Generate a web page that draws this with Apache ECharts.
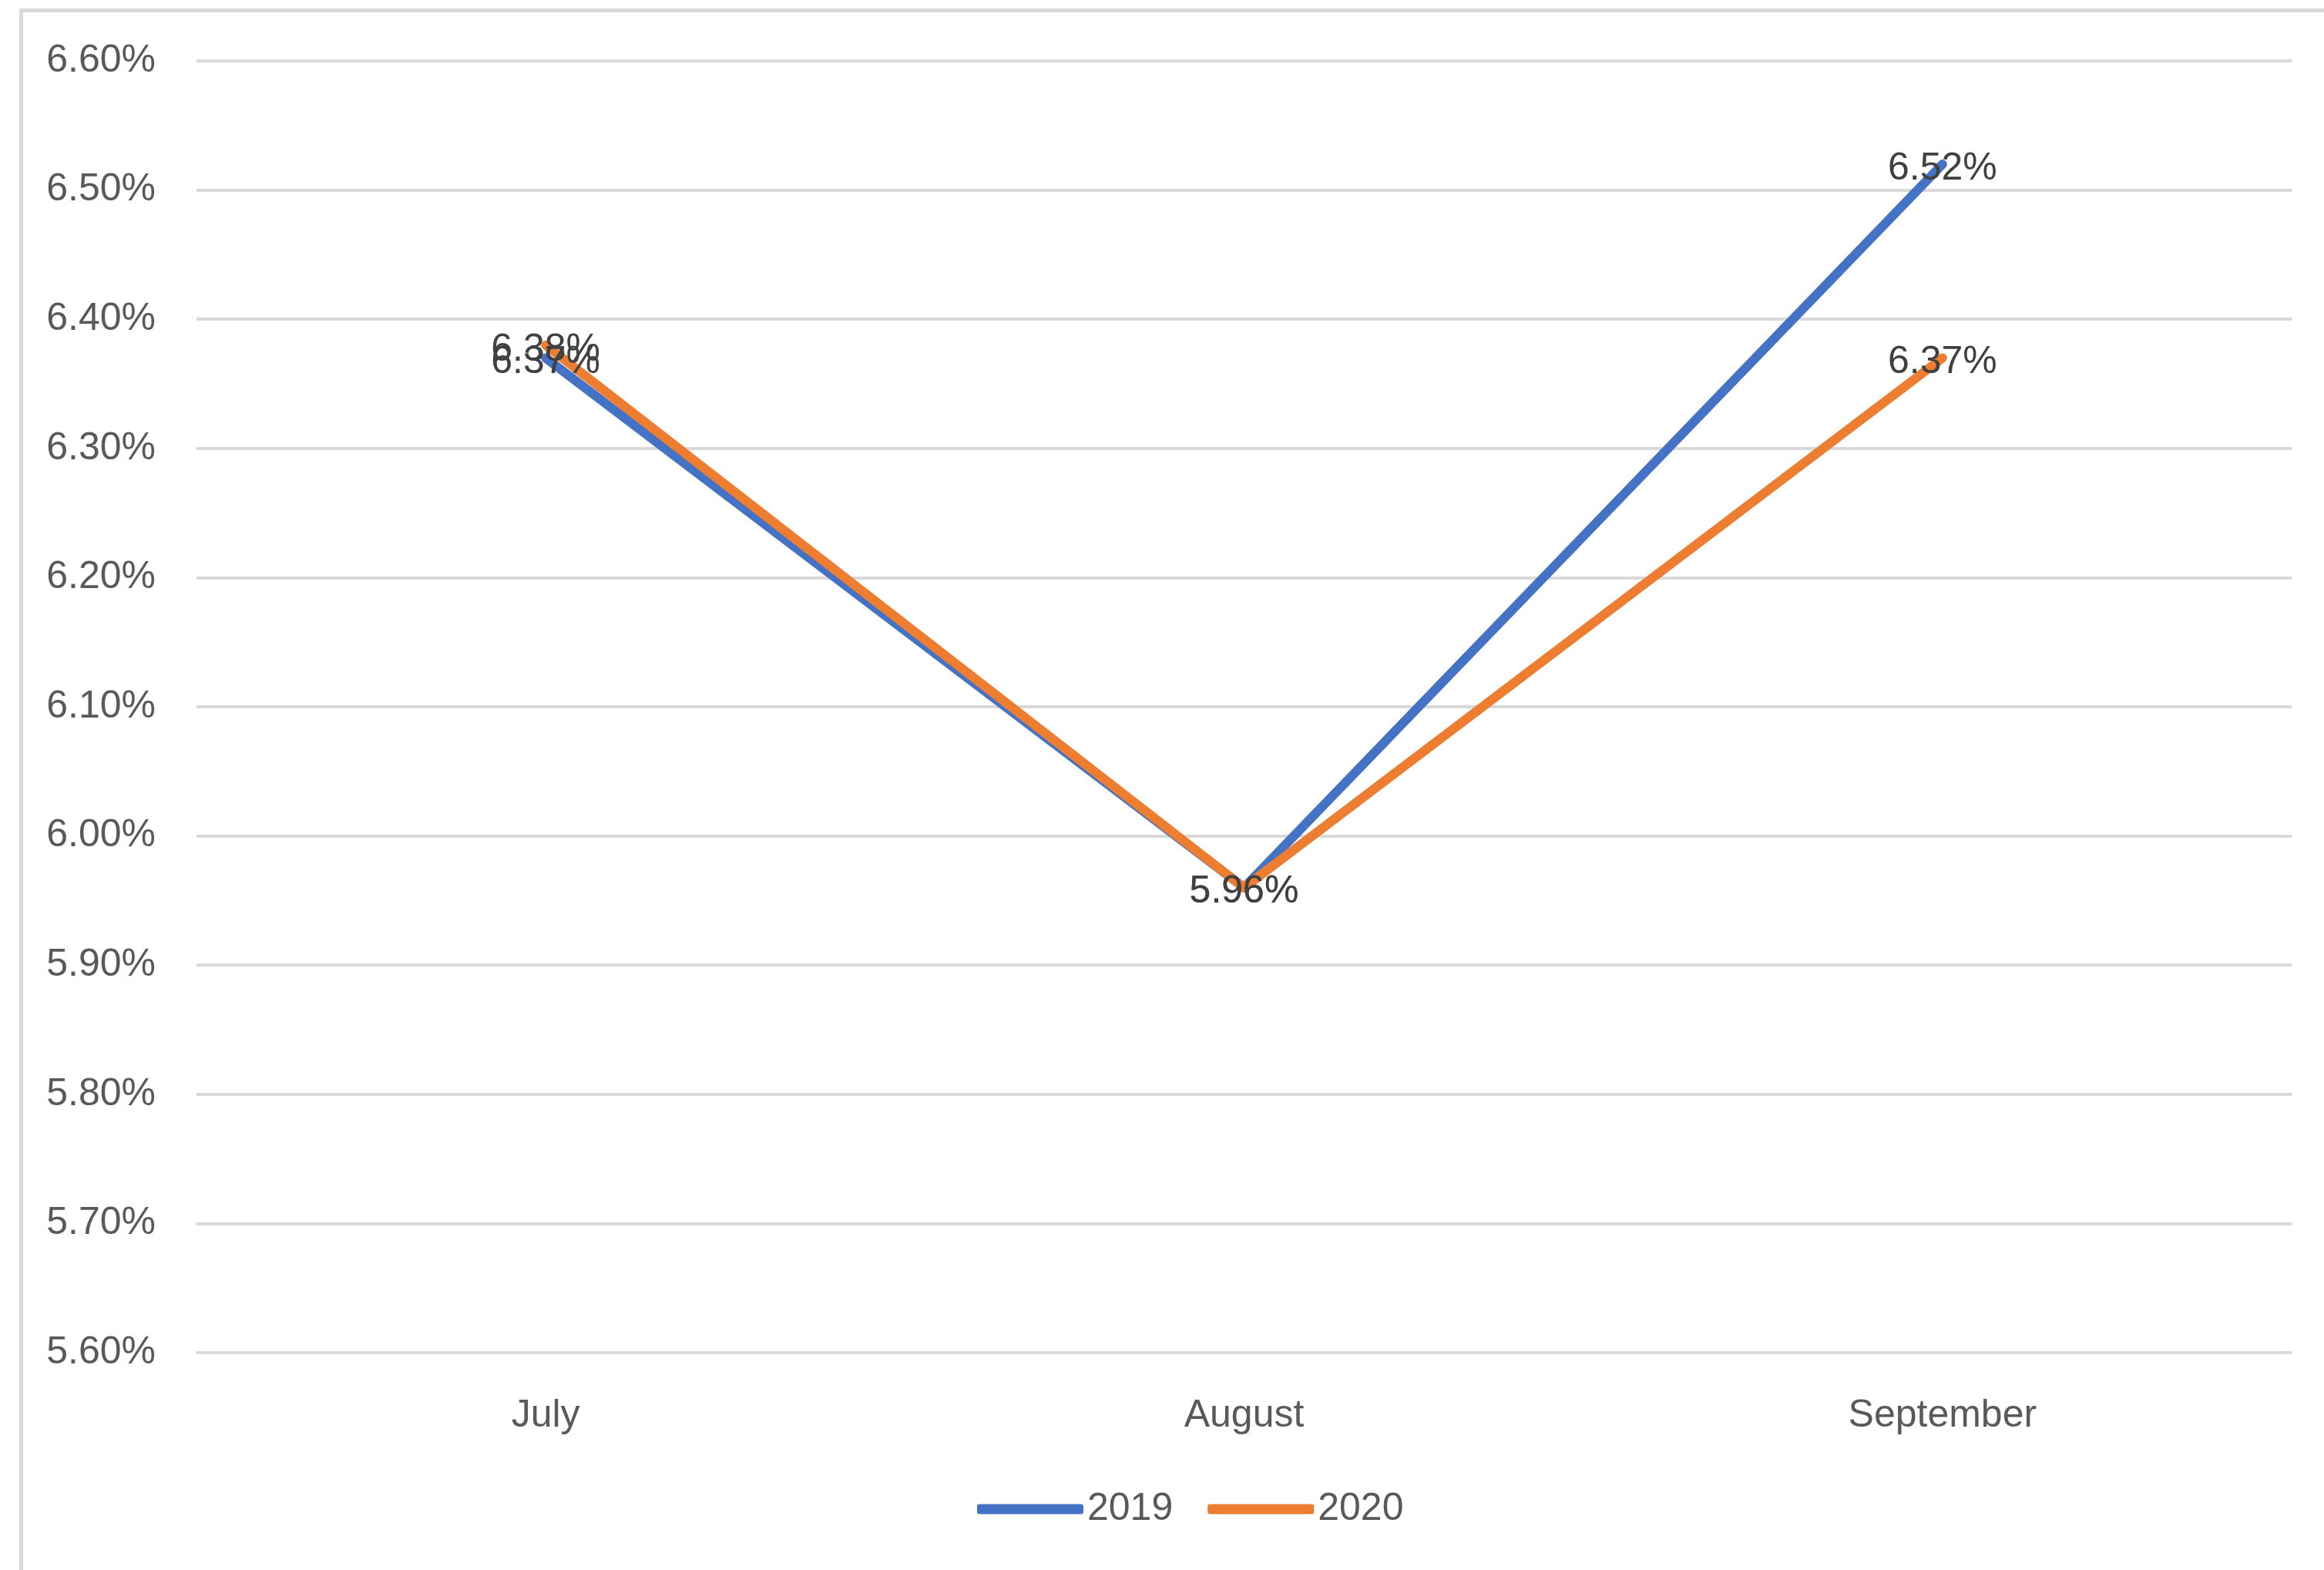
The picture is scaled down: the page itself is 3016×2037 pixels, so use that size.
<!DOCTYPE html>
<html>
<head>
<meta charset="utf-8">
<style>
  html, body { margin: 0; padding: 0; background: #ffffff; }
  #chart { width: 3016px; height: 2037px; }
</style>
<script src="https://cdn.jsdelivr.net/npm/echarts@6/dist/echarts.min.js"></script>
</head>
<body>
<div id="chart"></div>
<script>
// Monthly rates (percent)
const months = ['July', 'August', 'September'];
const rates2019 = [6.37, 5.96, 6.52];
const rates2020 = [6.38, 5.96, 6.37];
const seriesNames = ['2019', '2020'];
const yMin = 5.6;
const yMax = 6.6;
const yStep = 0.1;

const FONT = '"Liberation Sans", "DejaVu Sans", sans-serif';
const pct = v => Number(v).toFixed(2) + '%';

function lineSeries(name, data, color) {
  return {
    name: name,
    type: 'line',
    data: data,
    symbol: 'circle',
    symbolSize: 1,
    itemStyle: { color: color },
    lineStyle: { color: color, width: 12, cap: 'round', join: 'round' },
    label: {
      show: true,
      position: 'inside',
      offset: [0, 6],
      formatter: p => pct(p.value),
      color: '#404040',
      fontFamily: FONT,
      fontSize: 50
    },
    z: 3
  };
}

const chart = echarts.init(document.getElementById('chart'), null, { renderer: 'canvas' });
chart.setOption({
  animation: false,
  backgroundColor: '#ffffff',
  graphic: [{
    type: 'rect',
    left: 25, top: 11,
    shape: { width: 3100, height: 2100 },
    style: { fill: 'none', stroke: '#d9d9d9', lineWidth: 5 },
    silent: true
  }],
  grid: { left: 255, right: 42, top: 79, bottom: 282 },
  legend: {
    data: seriesNames,
    left: 1263,
    top: 1928,
    itemWidth: 138,
    itemHeight: 13,
    itemGap: 45,
    icon: 'roundRect',
    textStyle: { color: '#595959', fontFamily: FONT, fontSize: 50 }
  },
  xAxis: {
    type: 'category',
    data: months,
    boundaryGap: true,
    axisLine: { show: false },
    axisTick: { show: false },
    axisLabel: { color: '#595959', fontFamily: FONT, fontSize: 50, margin: 57 }
  },
  yAxis: {
    type: 'value',
    min: yMin,
    max: yMax,
    interval: yStep,
    axisLine: { show: false },
    axisTick: { show: false },
    splitLine: { lineStyle: { color: '#d9d9d9', width: 4 } },
    axisLabel: { color: '#595959', fontFamily: FONT, fontSize: 50, margin: 53, formatter: v => pct(v) }
  },
  series: [
    lineSeries(seriesNames[0], rates2019, '#4472C4'),
    lineSeries(seriesNames[1], rates2020, '#ED7D31')
  ]
});
</script>
</body>
</html>
